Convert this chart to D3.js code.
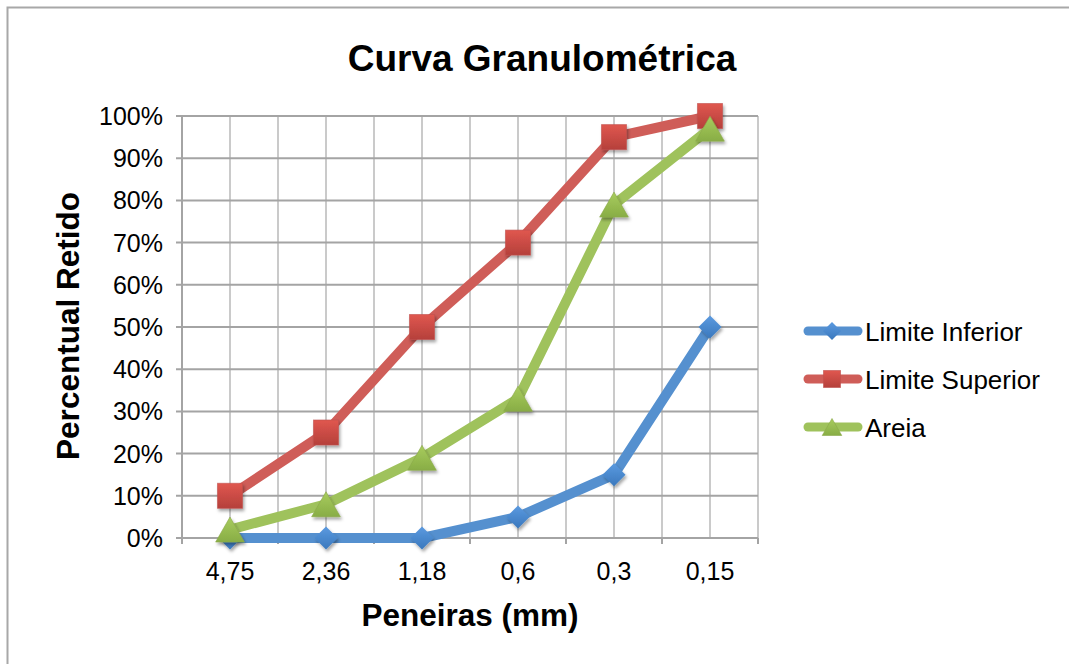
<!DOCTYPE html>
<html><head><meta charset="utf-8">
<script src="https://cdn.jsdelivr.net/npm/d3@7"></script>
<style>body{margin:0;background:#fff}svg{display:block}text{font-family:"Liberation Sans",Arial,Helvetica,sans-serif}</style>
</head><body><svg id="c" width="1069" height="664"></svg>
<script>
const categories = ["4,75","2,36","1,18","0,6","0,3","0,15"];
const limiteInferior = [0,0,0,5,15,50];
const limiteSuperior = [10,25,50,70,95,100];
const areia = [2,8,19,33,79,97];
const yTicks = [0,10,20,30,40,50,60,70,80,90,100];
const seriesNames = ["Limite Inferior","Limite Superior","Areia"];

const svg = d3.select("#c");
const m = {l:182, r:758, t:116, b:538};

// frame
svg.append("rect").attr("x",7.5).attr("y",7.5).attr("width",1200).attr("height",800)
  .attr("fill","none").attr("stroke","#a8a8a8").attr("stroke-width",2);

const defs = svg.append("defs");
const f = defs.append("filter").attr("id","sh").attr("x","-50%").attr("y","-50%").attr("width","200%").attr("height","200%");
f.append("feDropShadow").attr("dx",1.5).attr("dy",2.5).attr("stdDeviation",1.8).attr("flood-color","#000").attr("flood-opacity",0.35);
function grad(id,c1,c2){const g=defs.append("linearGradient").attr("id",id).attr("x1",0).attr("y1",0).attr("x2",0).attr("y2",1);
 g.append("stop").attr("offset","0%").attr("stop-color",c1);g.append("stop").attr("offset","100%").attr("stop-color",c2);}
grad("gb","#5b9ae0","#3a78bd");grad("gr","#e0574f","#b5403b");grad("gg","#a8cc5e","#88ad45");

const x = d3.scaleBand().domain(categories).range([m.l,m.r]).padding(0);
const y = d3.scaleLinear().domain([0,100]).range([m.b,m.t]);

// vertical grid (boundaries + centers)
const vx = [];
categories.forEach(c=>{vx.push(x(c)); vx.push(x(c)+x.bandwidth()/2);});
vx.push(m.r);
svg.append("g").selectAll("line").data(vx.slice(1)).join("line")
  .attr("x1",d=>d).attr("x2",d=>d).attr("y1",m.t).attr("y2",m.b)
  .attr("stroke","#cacaca").attr("stroke-width",2);
// horizontal grid
svg.append("g").selectAll("line").data(yTicks).join("line")
  .attr("x1",m.l-6).attr("x2",m.r).attr("y1",d=>y(d)).attr("y2",d=>y(d))
  .attr("stroke","#a4a4a4").attr("stroke-width",2);
// y axis line
svg.append("line").attr("x1",m.l).attr("x2",m.l).attr("y1",m.t).attr("y2",m.b+6).attr("stroke","#a4a4a4").attr("stroke-width",2);
// x ticks
const bx = categories.map(c=>x(c)).concat([m.r]);
svg.append("g").selectAll("line").data(bx).join("line")
  .attr("x1",d=>d).attr("x2",d=>d).attr("y1",m.b).attr("y2",m.b+6).attr("stroke","#a4a4a4").attr("stroke-width",2);

// y labels
svg.append("g").selectAll("text").data(yTicks).join("text")
  .attr("x",163).attr("y",d=>y(d)+9).attr("text-anchor","end").attr("font-size",25).attr("fill","#000")
  .text(d=>d+"%");
// x labels
svg.append("g").selectAll("text").data(categories).join("text")
  .attr("x",d=>x(d)+x.bandwidth()/2).attr("y",580).attr("text-anchor","middle").attr("font-size",25).attr("fill","#000")
  .text(d=>d);

// titles
svg.append("text").attr("x",542).attr("y",71).attr("text-anchor","middle").attr("font-size",37).attr("font-weight","bold").text("Curva Granulométrica");
svg.append("text").attr("x",470).attr("y",626).attr("text-anchor","middle").attr("font-size",31.5).attr("font-weight","bold").text("Peneiras (mm)");
svg.append("text").attr("transform","translate(79,326) rotate(-90)").attr("text-anchor","middle").attr("font-size",31.5).attr("font-weight","bold").text("Percentual Retido");

const cx = c=>x(c)+x.bandwidth()/2;
const line = d3.line().x((d,i)=>cx(categories[i])).y(d=>y(d));
const series = [
  {name:seriesNames[0],vals:limiteInferior,color:"#5590cf",g:"url(#gb)",shape:"diamond"},
  {name:seriesNames[1],vals:limiteSuperior,color:"#cf5d58",g:"url(#gr)",shape:"square"},
  {name:seriesNames[2],vals:areia,color:"#9fc25c",g:"url(#gg)",shape:"triangle"}
];
function marker(sel,shape,fill,s){
  if(shape==="diamond") sel.append("path").attr("d",`M0,${-s}L${s},0L0,${s}L${-s},0Z`).attr("fill",fill);
  else if(shape==="square") sel.append("rect").attr("x",-s).attr("y",-s).attr("width",s*2).attr("height",s*2).attr("fill",fill).attr("stroke","#c0504d").attr("stroke-opacity",0.6).attr("stroke-width",1);
  else sel.append("path").attr("d",`M0,${-s*1.0}L${s*1.15},${s*1.0}L${-s*1.15},${s*1.0}Z`).attr("fill",fill).attr("stroke","#8aa84a").attr("stroke-width",1).attr("stroke-opacity",0.6);
}
const msize = {diamond:11.5, square:12.5, triangle:12.5};
series.forEach(s=>{
  svg.append("path").datum(s.vals).attr("d",line).attr("fill","none").attr("stroke",s.color)
    .attr("stroke-width",10).attr("stroke-linejoin","round").attr("stroke-linecap","round");
  s.vals.forEach((v,i)=>{
    const g = svg.append("g").attr("transform",`translate(${cx(categories[i])},${y(v)})`).attr("filter","url(#sh)");
    marker(g,s.shape,s.g,msize[s.shape]);
  });
});

// legend
const ly = [331,379,427];
const lsize = {diamond:9, square:8.5, triangle:8.5};
series.forEach((s,i)=>{
  svg.append("line").attr("x1",808).attr("x2",858).attr("y1",ly[i]).attr("y2",ly[i]).attr("stroke",s.color).attr("stroke-width",9).attr("stroke-linecap","round");
  const g = svg.append("g").attr("transform",`translate(832,${ly[i]})`);
  marker(g,s.shape,s.g,lsize[s.shape]);
  svg.append("text").attr("x",865).attr("y",ly[i]+10).attr("font-size",26).attr("fill","#000").text(s.name);
});
</script></body></html>
